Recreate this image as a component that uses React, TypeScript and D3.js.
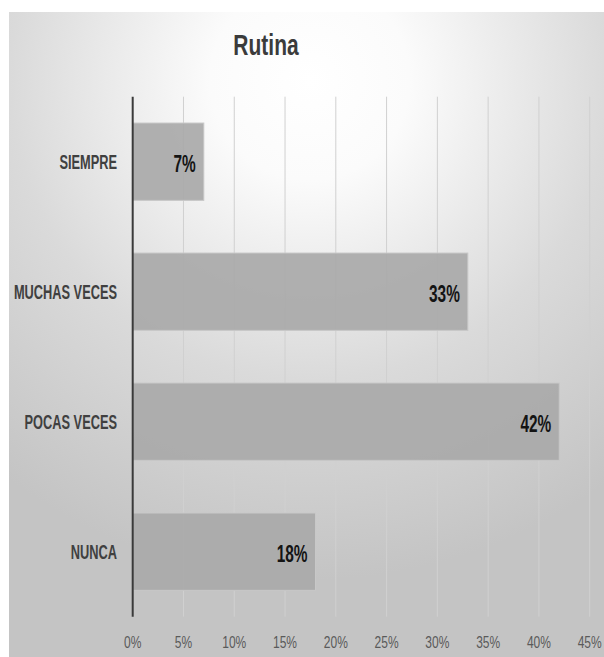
import React from "react";
import * as d3 from "d3";

const categories = ["SIEMPRE", "MUCHAS VECES", "POCAS VECES", "NUNCA"];
const values = [0.07, 0.33, 0.42, 0.18];
const tickValues = [0, 0.05, 0.1, 0.15, 0.2, 0.25, 0.3, 0.35, 0.4, 0.45];
const title = "Rutina";

const W = 604;
const H = 657;
const FONT = "'Liberation Sans', Arial, sans-serif";

// Narrow text: Liberation Sans squeezed horizontally
function NarrowText(props: {
  x: number;
  y: number;
  sx: number;
  anchor: "start" | "middle" | "end";
  size: number;
  weight?: string;
  fill: string;
  children: React.ReactNode;
}) {
  return (
    <text
      transform={`translate(${props.x},${props.y}) scale(${props.sx},1)`}
      textAnchor={props.anchor}
      fontSize={props.size}
      fontWeight={props.weight ?? "normal"}
      fill={props.fill}
    >
      {props.children}
    </text>
  );
}

export default function App() {
  const x = d3.scaleLinear().domain([0, 0.45]).range([132.7, 589.7]);
  const y = d3
    .scaleBand<string>()
    .domain(categories)
    .range([96.7, 616.7])
    .paddingInner(0.405)
    .paddingOuter(0.2025);
  const pct = d3.format(".0%");
  const [top, bottom] = y.range();
  const mid = (c: string) => (y(c) as number) + y.bandwidth() / 2;

  return (
    <svg
      width={W}
      height={H}
      style={{ position: "absolute", left: 0, top: 0, display: "block" }}
      fontFamily={FONT}
    >
      <defs>
        <radialGradient id="bg" gradientUnits="userSpaceOnUse" cx={310} cy={80} r={500}>
          <stop offset="0" stopColor="#ffffff" />
          <stop offset="0.2" stopColor="#fbfbfb" />
          <stop offset="0.6" stopColor="#dadada" />
          <stop offset="1" stopColor="#c4c4c4" />
        </radialGradient>
      </defs>
      <rect x={0} y={0} width={W} height={H} fill="#ffffff" />
      <rect x={9} y={12} width={W - 9} height={H - 12} fill="url(#bg)" />

      <NarrowText x={266} y={54.5} sx={0.7} anchor="middle" size={30} weight="bold" fill="#3b3b3b">
        {title}
      </NarrowText>

      {/* vertical gridlines */}
      {tickValues.slice(1).map((t) => (
        <line
          key={t}
          x1={x(t)}
          x2={x(t)}
          y1={top}
          y2={bottom}
          stroke="#d0d0d0"
          strokeWidth={1}
        />
      ))}

      {/* bars */}
      {categories.map((c, i) => (
        <rect
          key={c}
          x={x(0)}
          y={y(c)}
          width={x(values[i]) - x(0)}
          height={y.bandwidth()}
          fill="#a9a9a9"
          fillOpacity={0.92}
          stroke="#c8c8c8"
          strokeWidth={1}
        />
      ))}

      {/* value labels */}
      {categories.map((c, i) => (
        <NarrowText
          key={c}
          x={x(values[i]) - 8}
          y={mid(c) + 10.4}
          sx={0.67}
          anchor="end"
          size={23}
          weight="bold"
          fill="#141414"
        >
          {pct(values[i])}
        </NarrowText>
      ))}

      {/* category labels */}
      {categories.map((c) => (
        <NarrowText
          key={c}
          x={117}
          y={mid(c) + 7.5}
          sx={0.61}
          anchor="end"
          size={21}
          weight="bold"
          fill="#404040"
        >
          {c}
        </NarrowText>
      ))}

      {/* value axis line */}
      <line x1={x(0)} x2={x(0)} y1={top} y2={bottom} stroke="#3a3a3a" strokeWidth={2} />

      {/* tick labels */}
      {tickValues.map((t) => (
        <NarrowText key={t} x={x(t)} y={648.3} sx={0.75} anchor="middle" size={16} fill="#5a5a5a">
          {pct(t)}
        </NarrowText>
      ))}
    </svg>
  );
}
